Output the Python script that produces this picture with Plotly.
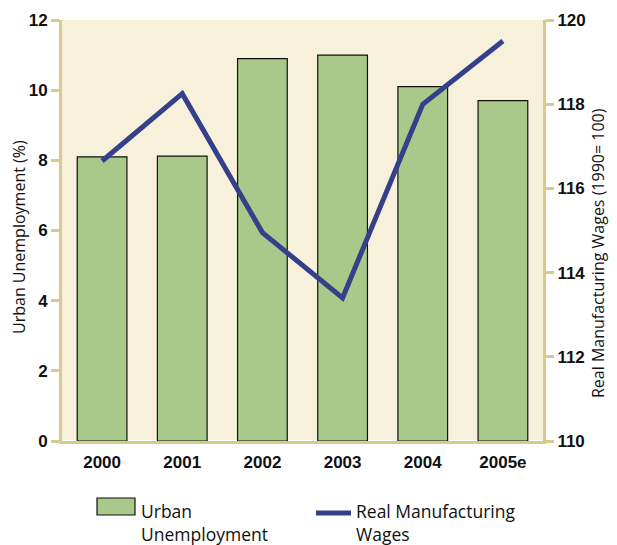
import plotly.graph_objects as go

years = ["2000", "2001", "2002", "2003", "2004", "2005e"]
unemployment = [8.1, 8.12, 10.9, 11.0, 10.1, 9.7]
wages = [116.65, 118.25, 114.95, 113.4, 118.0, 119.5]

TAN = "#d8c98e"
BAR = "#a9c98a"
LINE = "#34408a"
BOLD = "Liberation Sans, Arial, sans-serif"
REG = "Open Sans, sans-serif"

# the page body adds an 8px offset, so the figure is 8px smaller than the window
OFF = 8
W, H = 617 - OFF, 545 - OFF
# plot area in window pixels: x 62..543, y 20..441
L, R, T, B = 62 - OFF, 74, 20 - OFF, 104
PW, PH = W - L - R, H - T - B


def px(x):
    return (x - OFF - L) / PW


def py(y):
    return (H - B - (y - OFF)) / PH


fig = go.Figure()
fig.add_trace(go.Bar(
    x=years, y=unemployment, name="Urban Unemployment",
    marker=dict(color=BAR, line=dict(color="#111111", width=1.2)),
    width=0.62,
))
fig.add_trace(go.Scatter(
    x=years, y=wages, name="Real Manufacturing Wages", yaxis="y2",
    mode="lines", line=dict(color=LINE, width=5),
))

tickfont = dict(family=BOLD, size=17, color="#111111", weight="bold")
fig.update_layout(
    width=W, height=H,
    margin=dict(l=L, r=R, t=T, b=B, autoexpand=False),
    paper_bgcolor="white", plot_bgcolor="#f7f1dc",
    font=dict(family=REG, size=16, color="#111111"),
    showlegend=False,
    xaxis=dict(
        showline=True, linecolor=TAN, linewidth=3, automargin=False,
        tickfont=tickfont, ticks="", showgrid=False, ticklabelstandoff=4,
    ),
    yaxis=dict(
        range=[0, 12], dtick=2, showgrid=False, automargin=False,
        showline=True, linecolor=TAN, linewidth=3,
        ticks="outside", tickcolor=TAN, ticklen=8, tickwidth=3,
        tickfont=tickfont,
    ),
    yaxis2=dict(
        range=[110, 120], dtick=2, overlaying="y", side="right", showgrid=False,
        showline=True, linecolor=TAN, linewidth=3, automargin=False,
        ticks="outside", tickcolor=TAN, ticklen=8, tickwidth=3,
        tickfont=tickfont,
    ),
)

# axis titles
titlefont = dict(family=REG, size=16, color="#111111")
fig.add_annotation(text="Urban Unemployment (%)", textangle=-90, showarrow=False,
                   xref="paper", yref="paper", x=px(19), y=py(237),
                   xanchor="center", yanchor="middle", font=titlefont)
fig.add_annotation(text="Real Manufacturing Wages (1990= 100)", textangle=-90,
                   showarrow=False, xref="paper", yref="paper", x=px(598), y=py(253),
                   xanchor="center", yanchor="middle", font=titlefont)

# legend
legfont = dict(family=REG, size=17.5, color="#111111")
fig.add_shape(type="rect", xref="paper", yref="paper",
              x0=px(97), x1=px(135), y0=py(515), y1=py(498),
              fillcolor=BAR, line=dict(color="#111111", width=1.2))
fig.add_annotation(text="Urban<br>Unemployment", showarrow=False, align="left",
                   xref="paper", yref="paper", x=px(139), y=py(497),
                   xanchor="left", yanchor="top", font=legfont)
fig.add_shape(type="line", xref="paper", yref="paper",
              x0=px(316), x1=px(351), y0=py(513), y1=py(513),
              line=dict(color=LINE, width=5))
fig.add_annotation(text="Real Manufacturing<br>Wages", showarrow=False, align="left",
                   xref="paper", yref="paper", x=px(354), y=py(497),
                   xanchor="left", yanchor="top", font=legfont)

fig.write_html("out.html")
